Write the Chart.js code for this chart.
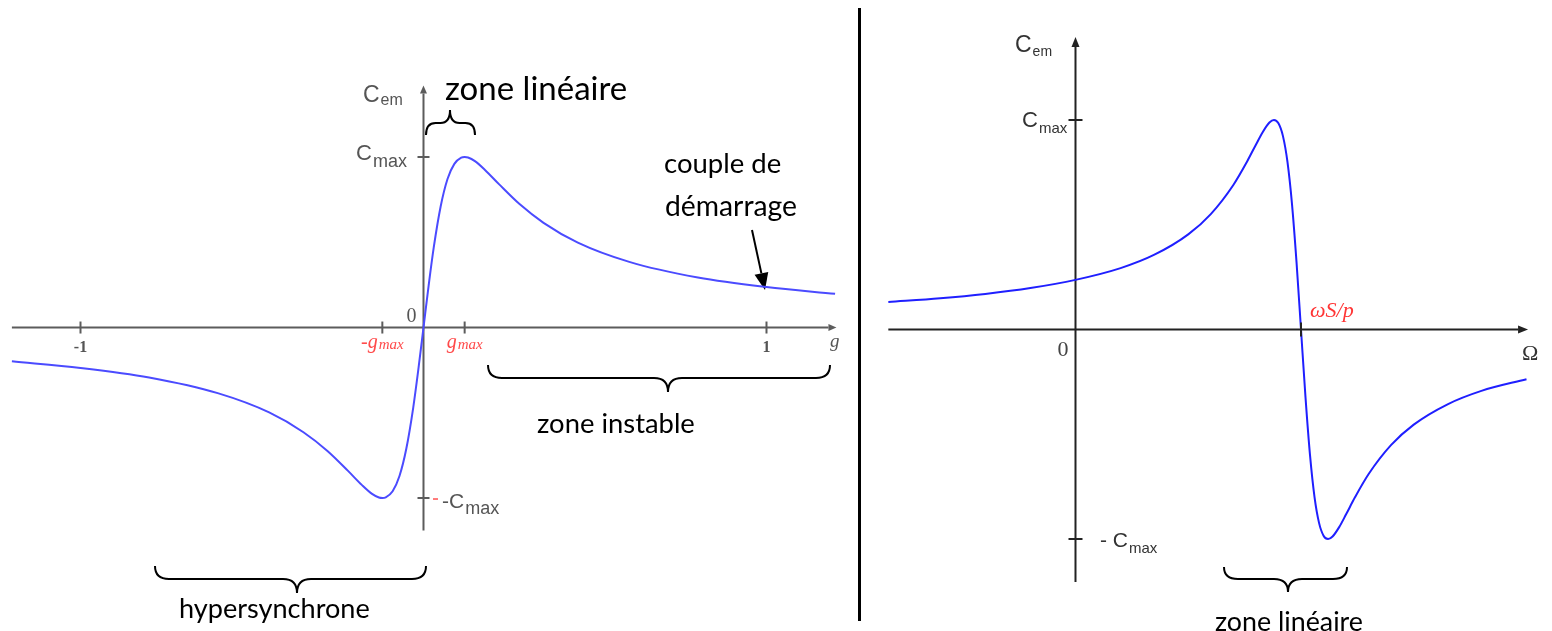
<!DOCTYPE html>
<html lang="fr">
<head>
<meta charset="UTF-8">
<title>Couple électromagnétique</title>
<script src="https://cdn.jsdelivr.net/npm/chart.js"></script>
<style>
    body {
        margin: 0;
        background: #fff;
        width: 1552px;
        height: 631px;
        overflow: hidden;
        position: relative;
    }
    #slipChart { position: absolute; left: 0; top: 0; }
    #speedChart { position: absolute; left: 861px; top: 0; }
    .separator {
        position: absolute;
        left: 858px;
        top: 8px;
        width: 3px;
        height: 613px;
        background: #000;
    }
</style>
</head>
<body>
<canvas id="slipChart" width="858" height="631"></canvas>
<div class="separator"></div>
<canvas id="speedChart" width="691" height="631"></canvas>

<script>
// Torque / slip curve (C in units of Cmax)
const slipValues = [-1.2, -1.0, -0.8, -0.6, -0.45, -0.35, -0.28, -0.22, -0.18, -0.15, -0.13, -0.12, -0.11, -0.09, -0.07, -0.05, -0.03, -0.015,
    0, 0.015, 0.03, 0.05, 0.07, 0.09, 0.11, 0.12, 0.13, 0.15, 0.18, 0.22, 0.28, 0.35, 0.45, 0.6, 0.8, 1.0, 1.2];
const slipTorque = [-0.198, -0.237, -0.293, -0.385, -0.498, -0.614, -0.724, -0.841, -0.923, -0.976, -0.997, -1.0, -0.996, -0.96, -0.871, -0.71, -0.471, -0.246,
    0, 0.246, 0.471, 0.71, 0.871, 0.96, 0.996, 1.0, 0.997, 0.976, 0.923, 0.841, 0.724, 0.614, 0.498, 0.385, 0.293, 0.237, 0.198];

// Torque / rotor speed curve (Omega in units of ws/p)
const speedValues = [-0.83, -0.6, -0.4, -0.2, 0, 0.2, 0.35, 0.5, 0.6, 0.7, 0.76, 0.8, 0.83, 0.86, 0.88, 0.9, 0.92, 0.94, 0.96, 0.98,
    1.0, 1.02, 1.04, 1.06, 1.08, 1.1, 1.12, 1.14, 1.17, 1.2, 1.24, 1.3, 1.4, 1.5, 1.65, 1.8, 2.0];
const speedTorque = [0.131, 0.149, 0.170, 0.198, 0.237, 0.293, 0.357, 0.454, 0.551, 0.690, 0.800, 0.882, 0.942, 0.988, 1.0, 0.984, 0.923, 0.8, 0.6, 0.324,
    0, -0.324, -0.6, -0.8, -0.923, -0.984, -1.0, -0.988, -0.942, -0.882, -0.8, -0.690, -0.551, -0.454, -0.357, -0.293, -0.237];

const slipTicks = [-1, -0.12, 0.12, 1];
const slipTickLabels = ['-1', '-g', 'g', '1'];
const slipTickSubs = ['', 'max', 'max', ''];
const torqueTicks = [1, -1];
const speedTicks = [1];

const SERIF = '"Liberation Serif", "DejaVu Serif", serif';
const SANS = '"Liberation Sans", Arial, sans-serif';
const NOTE = 'Lato, "Open Sans", sans-serif';

function seg(ctx, x0, y0, x1, y1) {
    ctx.beginPath();
    ctx.moveTo(x0, y0);
    ctx.lineTo(x1, y1);
    ctx.stroke();
}

function arrow(ctx, x0, y0, x1, y1, len, half) {
    const a = Math.atan2(y1 - y0, x1 - x0);
    const bx = x1 - len * Math.cos(a), by = y1 - len * Math.sin(a);
    seg(ctx, x0, y0, bx, by);
    ctx.beginPath();
    ctx.moveTo(x1, y1);
    ctx.lineTo(bx + half * Math.sin(a), by - half * Math.cos(a));
    ctx.lineTo(bx - half * Math.sin(a), by + half * Math.cos(a));
    ctx.closePath();
    ctx.fill();
}

// curly brace between x1 and x2, point at xm, depth > 0 points down
function brace(ctx, x1, x2, xm, y, depth) {
    const h = depth * 0.48;
    const r = Math.min(14, (xm - x1) / 2.5, (x2 - xm) / 2.5);
    ctx.beginPath();
    ctx.moveTo(x1, y);
    ctx.quadraticCurveTo(x1, y + h, x1 + r, y + h);
    ctx.lineTo(xm - r, y + h);
    ctx.quadraticCurveTo(xm, y + h, xm, y + depth);
    ctx.quadraticCurveTo(xm, y + h, xm + r, y + h);
    ctx.lineTo(x2 - r, y + h);
    ctx.quadraticCurveTo(x2, y + h, x2, y);
    ctx.stroke();
}

// text stretched to a given span
function fitText(ctx, str, x, y, width) {
    ctx.font = '100px ' + NOTE;
    const size = 100 * width / ctx.measureText(str).width;
    ctx.font = size.toFixed(1) + 'px ' + NOTE;
    ctx.textAlign = 'left';
    ctx.textBaseline = 'alphabetic';
    ctx.fillText(str, x, y);
}

function subText(ctx, main, sub, x, y, size, subSize, drop, family, style) {
    style = style || '';
    ctx.textAlign = 'left';
    ctx.textBaseline = 'alphabetic';
    ctx.font = style + ' ' + size + 'px ' + family;
    ctx.fillText(main, x, y);
    const w = ctx.measureText(main).width;
    ctx.font = style + ' ' + subSize + 'px ' + family;
    ctx.fillText(sub, x + w + 1, y + drop);
}

function subWidth(ctx, main, sub, size, subSize, family, style) {
    ctx.font = style + ' ' + size + 'px ' + family;
    const w = ctx.measureText(main).width;
    ctx.font = style + ' ' + subSize + 'px ' + family;
    return w + 1 + ctx.measureText(sub).width;
}

const slipDecor = {
    id: 'slipDecor',
    beforeDatasetsDraw(chart) {
        const { ctx, scales: { x, y } } = chart;
        const X = v => x.getPixelForValue(v);
        const Y = v => y.getPixelForValue(v);
        ctx.save();

        // axes
        ctx.strokeStyle = '#5c5c5c';
        ctx.fillStyle = '#5c5c5c';
        ctx.lineWidth = 2;
        arrow(ctx, X(-1.2), Y(0), X(1.204), Y(0), 8, 3.5);
        arrow(ctx, X(0), Y(-1.19), X(0), Y(1.42), 8, 3.5);
        slipTicks.forEach(t => seg(ctx, X(t), Y(0) - 6, X(t), Y(0) + 6));
        torqueTicks.forEach(c => seg(ctx, X(0) - 6, Y(c), X(0) + 6, Y(c)));

        // tick labels
        slipTicks.forEach((t, i) => {
            if (slipTickSubs[i]) {
                ctx.fillStyle = '#ff4a4a';
                const w = subWidth(ctx, slipTickLabels[i], slipTickSubs[i], 20, 15, SERIF, 'italic');
                subText(ctx, slipTickLabels[i], slipTickSubs[i], X(t) - w / 2, Y(0) + 20, 20, 15, 1, SERIF, 'italic');
            } else {
                ctx.fillStyle = '#555';
                ctx.font = 'bold 16px ' + SERIF;
                ctx.textAlign = 'center';
                ctx.fillText(slipTickLabels[i], X(t), Y(0) + 24);
            }
        });
        ctx.fillStyle = '#555';
        ctx.textAlign = 'left';
        ctx.font = '20px ' + SERIF;
        ctx.fillText('0', X(0) - 17, Y(0) - 6);
        ctx.font = 'italic 19px ' + SERIF;
        ctx.fillText('g', 830, 347);

        subText(ctx, 'C', 'em', 363, 102, 23, 16, 3, SANS);
        subText(ctx, 'C', 'max', 356, 160, 22, 18, 7, SANS);
        ctx.strokeStyle = '#ff5050';
        ctx.lineWidth = 1.5;
        seg(ctx, 433, Y(-1) + 1, 438, Y(-1) + 1);
        ctx.fillStyle = '#555';
        subText(ctx, '-C', 'max', 442, 508, 21, 18, 6, SANS);

        // notes
        ctx.fillStyle = '#000';
        ctx.strokeStyle = '#000';
        ctx.lineWidth = 2;
        fitText(ctx, 'zone linéaire', 445, 100, 182);
        fitText(ctx, 'couple de', 664, 173, 117);
        fitText(ctx, 'démarrage', 665, 216, 132);
        fitText(ctx, 'zone instable', 537, 433, 158);
        fitText(ctx, 'hypersynchrone', 179, 618, 191);
        brace(ctx, 426, 475, 450, 135, -25);
        brace(ctx, 488, 830, 668, 365, 27);
        brace(ctx, 155, 426, 297, 566, 27);
        arrow(ctx, 752, 230, 765, 290, 17, 7);

        ctx.restore();
    }
};

const speedDecor = {
    id: 'speedDecor',
    beforeDatasetsDraw(chart) {
        const { ctx, scales: { x, y } } = chart;
        const X = v => x.getPixelForValue(v);
        const Y = v => y.getPixelForValue(v);
        ctx.save();

        ctx.strokeStyle = '#222';
        ctx.fillStyle = '#222';
        ctx.lineWidth = 2;
        arrow(ctx, X(-0.83), Y(0), X(2.007), Y(0), 10, 4);
        arrow(ctx, X(0), Y(-1.205), X(0), Y(1.396), 10, 4);
        torqueTicks.forEach(c => seg(ctx, X(0) - 7, Y(c), X(0) + 7, Y(c)));

        ctx.fillStyle = '#444';
        ctx.textAlign = 'left';
        ctx.font = '22px ' + SERIF;
        ctx.fillText('0', X(0) - 18, 356);
        ctx.fillStyle = '#333';
        ctx.fillText('\u03A9', 661, 360);
        ctx.fillStyle = '#ff3535';
        ctx.font = 'italic 22px ' + SERIF;
        ctx.fillText('\u03C9S/p', X(1) + 9, 317);

        ctx.fillStyle = '#333';
        subText(ctx, 'C', 'em', 154, 52, 23, 14, 4, SANS);
        subText(ctx, 'C', 'max', 161, 127, 22, 15, 6, SANS);
        subText(ctx, '- C', 'max', 239, 547, 21, 15, 6, SANS);

        ctx.fillStyle = '#000';
        ctx.strokeStyle = '#000';
        ctx.lineWidth = 2;
        fitText(ctx, 'zone linéaire', 354, 631, 148);
        brace(ctx, 363, 486, 427, 567, 25);
        ctx.restore();
    },
    afterDatasetsDraw(chart) {
        const { ctx, scales: { x, y } } = chart;
        ctx.save();
        ctx.strokeStyle = '#222';
        ctx.lineWidth = 2;
        speedTicks.forEach(t => seg(ctx, x.getPixelForValue(t), y.getPixelForValue(0) - 7, x.getPixelForValue(t), y.getPixelForValue(0) + 7));
        ctx.restore();
    }
};

function buildChart(id, xs, ys, color, xRange, yRange, decor) {
    return new Chart(document.getElementById(id), {
        type: 'scatter',
        data: {
            datasets: [{
                data: xs.map((v, i) => ({ x: v, y: ys[i] })),
                showLine: true,
                borderColor: color,
                borderWidth: 2,
                pointRadius: 0,
                cubicInterpolationMode: 'monotone',
                fill: false
            }]
        },
        options: {
            responsive: false,
            animation: false,
            events: [],
            layout: { padding: 0 },
            plugins: {
                legend: { display: false },
                tooltip: { enabled: false }
            },
            scales: {
                x: { type: 'linear', min: xRange[0], max: xRange[1], display: false },
                y: { type: 'linear', min: yRange[0], max: yRange[1], display: false }
            }
        },
        plugins: [decor]
    });
}

buildChart('slipChart', slipValues, slipTorque, '#4b4bff', [-1.2347, 1.2668], [-1.780, 1.921], slipDecor);
buildChart('speedChart', speedValues, speedTorque, '#1f1fff', [-0.9512, 2.1131], [-1.4391, 1.5728], speedDecor);
</script>
</body>
</html>
